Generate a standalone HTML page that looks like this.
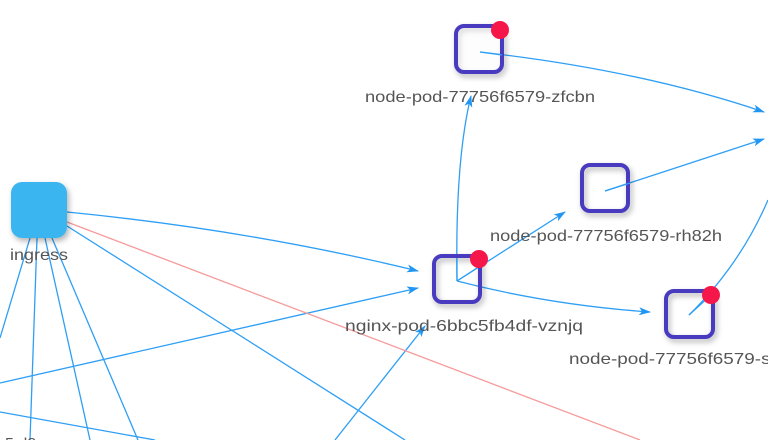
<!DOCTYPE html>
<html><head><style>
body{margin:0;width:768px;height:440px;overflow:hidden;background:#fff;font-family:"Liberation Sans",sans-serif;}
svg{position:absolute;left:0;top:0}
text{font-family:"Liberation Sans",sans-serif;font-size:16px;fill:#555;}
</style></head><body>
<svg width="768" height="440" viewBox="0 0 768 440">
<defs>
<marker id="a" markerWidth="12" markerHeight="8" refX="11" refY="4" orient="auto" markerUnits="userSpaceOnUse"><path d="M0,0 L12,4 L0,8 L3,4 Z" fill="#2196f3"/></marker>
<filter id="sh" x="-40%" y="-40%" width="180%" height="180%"><feDropShadow dx="2" dy="3" stdDeviation="3" flood-color="#000" flood-opacity="0.3"/></filter>
</defs>
<g stroke="#2e9ff5" stroke-width="1.3" fill="none">
<line x1="30" y1="238" x2="0" y2="338"/>
<line x1="37" y1="238" x2="30" y2="440"/>
<line x1="45" y1="238" x2="90" y2="440"/>
<line x1="52" y1="238" x2="138" y2="440"/>
<line x1="67" y1="226" x2="405" y2="440"/>
<line x1="0" y1="412" x2="155" y2="440"/>
<path d="M67,212 Q250,230 418,271" marker-end="url(#a)"/>
<path d="M0,383 L418,288" marker-end="url(#a)"/>
<path d="M335,440 L425,326" marker-end="url(#a)"/>
<path d="M457,281 Q455,160 471,96" marker-end="url(#a)"/>
<path d="M457,281 L565,212" marker-end="url(#a)"/>
<path d="M457,281 Q550,305 650,312" marker-end="url(#a)"/>
<path d="M480,52 Q640,70 764,112" marker-end="url(#a)"/>
<path d="M605,191 L764,139" marker-end="url(#a)"/>
<path d="M689,315 Q740,265 768,200"/>
</g>
<line x1="67" y1="222" x2="640" y2="440" stroke="#f59a9a" stroke-width="1.3"/>
<rect x="11" y="182" width="56" height="56" rx="11" fill="#3bb5ef" filter="url(#sh)"/>
<g fill="none" stroke="#4a3bbf" stroke-width="4" filter="url(#sh)">
<rect x="456" y="26" width="46" height="46" rx="8" fill="rgba(255,255,255,0.05)"/>
<rect x="582" y="165" width="46" height="46" rx="8"/>
<rect x="434" y="256" width="46" height="46" rx="8"/>
<rect x="666" y="291" width="47" height="46" rx="8"/>
</g>
<g stroke="#2e9ff5" stroke-width="1.3">
<line x1="480" y1="52" x2="502" y2="55"/>
<line x1="605" y1="191" x2="630" y2="183"/>
<line x1="457" y1="281" x2="480" y2="266"/>
<line x1="689" y1="315" x2="711" y2="295"/>
<line x1="457" y1="281" x2="457" y2="258"/>
</g>
<g fill="#f5174a">
<circle cx="500" cy="30" r="9"/>
<circle cx="479" cy="259" r="9"/>
<circle cx="711" cy="295" r="9"/>
</g>
<text x="10" y="260" textLength="58" lengthAdjust="spacingAndGlyphs">ingress</text>
<text x="365" y="102" textLength="230" lengthAdjust="spacingAndGlyphs">node-pod-77756f6579-zfcbn</text>
<text x="490" y="241" textLength="232" lengthAdjust="spacingAndGlyphs">node-pod-77756f6579-rh82h</text>
<text x="345" y="331" textLength="238" lengthAdjust="spacingAndGlyphs">nginx-pod-6bbc5fb4df-vznjq</text>
<text x="569" y="364" textLength="212" lengthAdjust="spacingAndGlyphs">node-pod-77756f6579-sn</text>
<text x="5" y="449">5 d8</text>
</svg>
</body></html>
